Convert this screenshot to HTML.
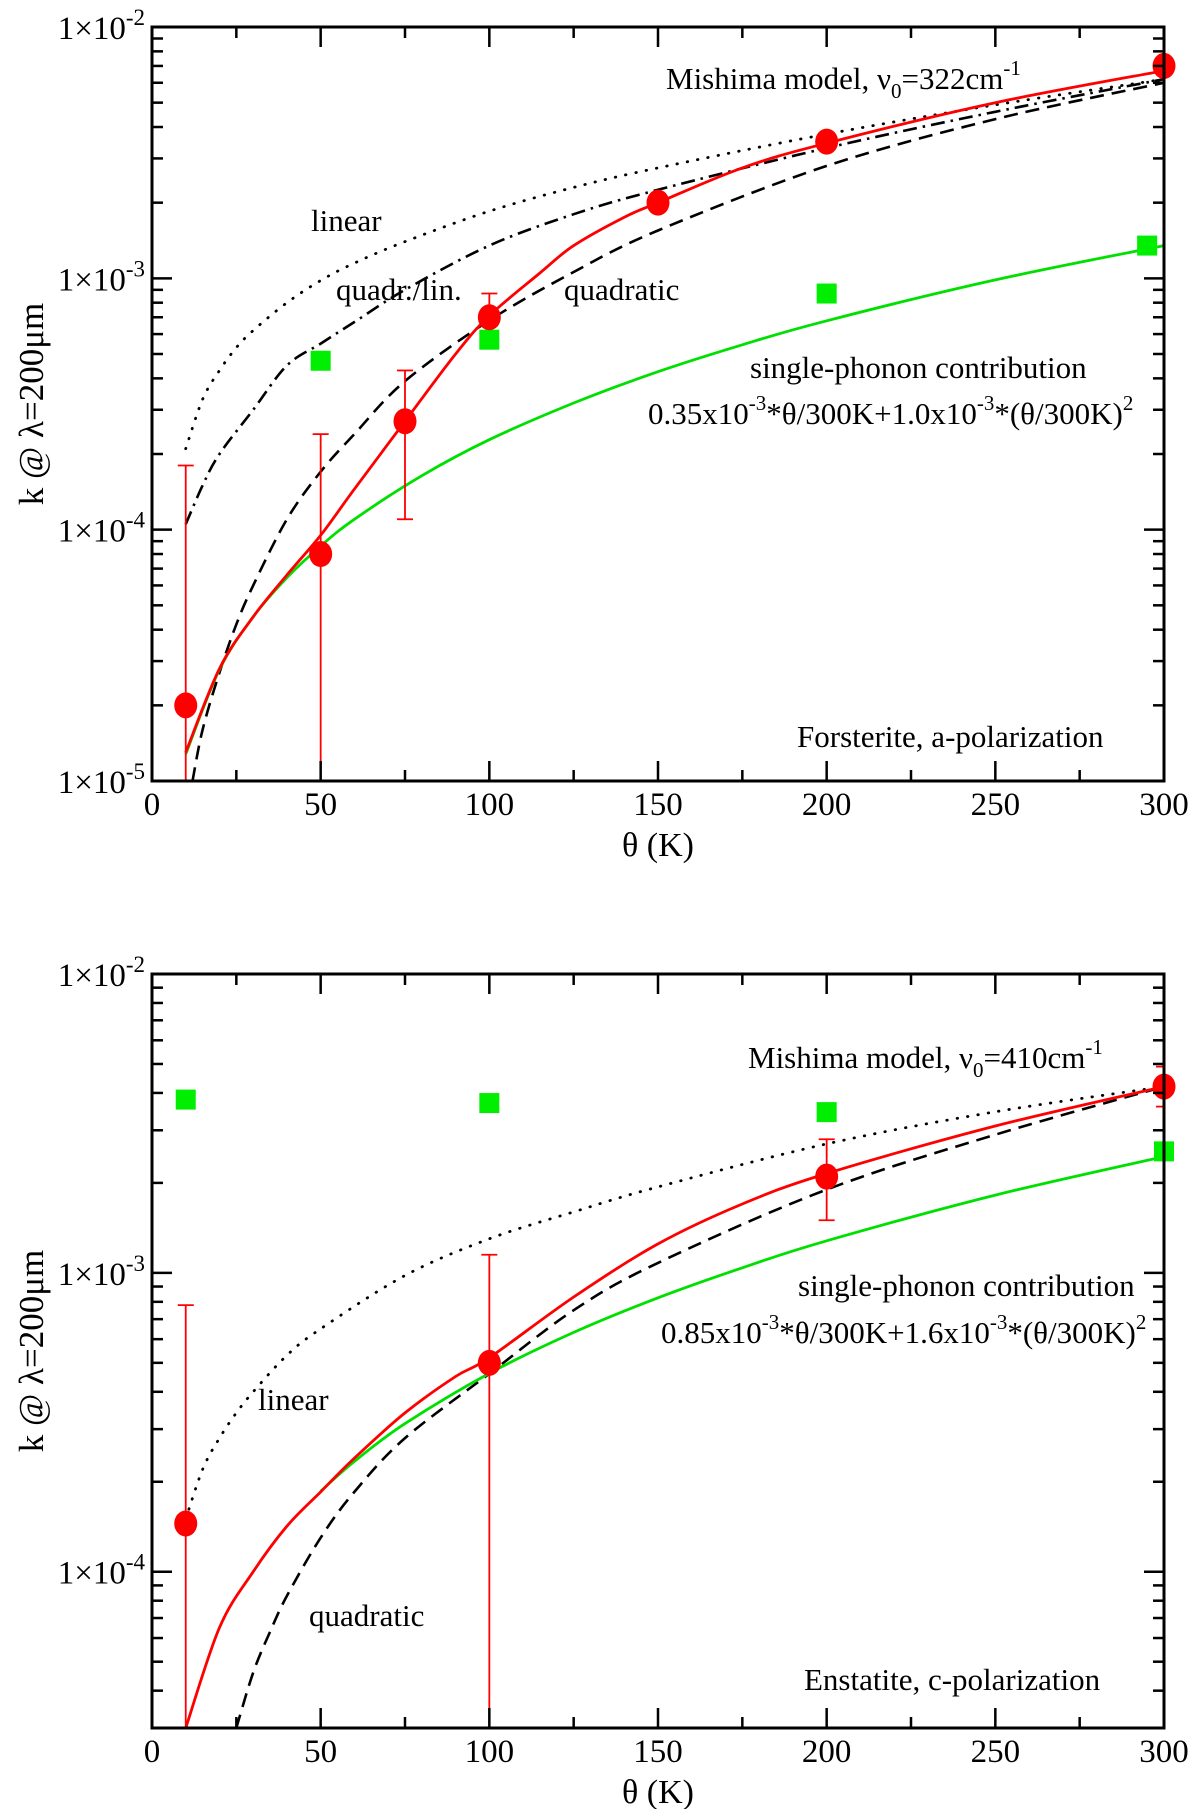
<!DOCTYPE html>
<html><head><meta charset="utf-8"><style>
body{margin:0;background:#fff}
svg{display:block}
text{font-family:"Liberation Serif",serif;fill:#000}
</style></head><body>
<svg id="s" width="1200" height="1809" viewBox="0 0 1200 1809"></svg>
<script>
// ---- Top panel data (Forsterite) ----
const xTicks=[0,50,100,150,200,250,300];
const aPtsX=[10,50,75,100,150,200,300];
const aPtsY=[2e-5,8e-5,2.7e-4,7e-4,2e-3,3.5e-3,7e-3];
const aErrLo=[1e-5,1e-5,1.1e-4,5.7e-4,2e-3,3.5e-3,7e-3];
const aErrHi=[1.8e-4,2.4e-4,4.3e-4,8.7e-4,2e-3,3.5e-3,7e-3];
const aSqX=[50,100,200,295];
const aSqY=[4.7e-4,5.7e-4,8.7e-4,1.35e-3];
const aGreenX=[10,20,30,40,50,60,80,100,125,150,175,200,250,300];
const aGreenY=[1.28e-5,2.78e-5,4.5e-5,6.44e-5,8.61e-5,1.1e-4,1.64e-4,2.28e-4,3.19e-4,4.25e-4,5.44e-4,6.78e-4,9.86e-4,1.35e-3];
const aRedX=[10,20,30,40,50,60,75,90,100,115,125,140,150,175,200,250,300];
const aRedY=[1.3e-5,2.8e-5,4.5e-5,6.6e-5,9.5e-5,1.45e-4,2.7e-4,5e-4,7.1e-4,1.05e-3,1.35e-3,1.75e-3,2e-3,2.75e-3,3.45e-3,5e-3,6.7e-3];
const aLinX=[10,15,20,25,30,40,50,60,75,100,125,150,200,250,300];
const aLinY=[2.1e-4,3.3e-4,4.3e-4,5.3e-4,6.2e-4,8e-4,9.8e-4,1.15e-3,1.4e-3,1.85e-3,2.3e-3,2.75e-3,3.75e-3,4.9e-3,6.2e-3];
const aQLX=[10,15,20,30,40,50,60,75,100,125,150,200,250,300];
const aQLY=[1.05e-4,1.5e-4,2e-4,3e-4,4.5e-4,5.5e-4,6.7e-4,9e-4,1.35e-3,1.8e-3,2.25e-3,3.3e-3,4.6e-3,6.2e-3];
const aQX=[12,15,20,25,30,40,50,60,75,100,125,150,200,250,300];
const aQY=[1e-5,1.6e-5,2.7e-5,4.2e-5,6e-5,1.1e-4,1.7e-4,2.4e-4,3.9e-4,6.8e-4,1.06e-3,1.55e-3,2.8e-3,4.3e-3,6e-3];
// ---- Bottom panel data (Enstatite) ----
const bPtsX=[10,100,200,300];
const bPtsY=[1.45e-4,5e-4,2.1e-3,4.2e-3];
const bErrLo=[3e-5,3e-5,1.5e-3,3.6e-3];
const bErrHi=[7.8e-4,1.15e-3,2.8e-3,4.9e-3];
const bSqX=[10,100,200,300];
const bSqY=[3.8e-3,3.7e-3,3.45e-3,2.55e-3];
const bGreenX=[50,60,75,100,125,150,175,200,250,300];
const bGreenY=[1.86e-4,2.34e-4,3.13e-4,4.61e-4,6.32e-4,8.25e-4,1.04e-3,1.28e-3,1.82e-3,2.45e-3];
const bRedX=[10,20,30,40,50,60,75,90,100,125,150,175,200,250,300];
const bRedY=[3e-5,6.5e-5,1e-4,1.42e-4,1.85e-4,2.4e-4,3.4e-4,4.5e-4,5.2e-4,8.3e-4,1.25e-3,1.7e-3,2.15e-3,3.1e-3,4.2e-3];
const bLinX=[10,15,20,25,30,40,50,75,100,125,150,200,250,300];
const bLinY=[1.5e-4,2.2e-4,2.8e-4,3.4e-4,4e-4,5.3e-4,6.5e-4,9.8e-4,1.3e-3,1.6e-3,1.94e-3,2.7e-3,3.46e-3,4.2e-3];
const bQX=[25,30,35,40,50,60,75,100,125,150,200,250,300];
const bQY=[3e-5,4.6e-5,6.3e-5,8.3e-5,1.3e-4,1.85e-4,2.8e-4,4.6e-4,7.5e-4,1.08e-3,1.9e-3,2.9e-3,4.2e-3];

const NS="http://www.w3.org/2000/svg";
const svg=document.getElementById('s');
function el(tag,attrs,parent){const e=document.createElementNS(NS,tag);for(const k in attrs)e.setAttribute(k,attrs[k]);(parent||svg).appendChild(e);return e;}

function smoothPath(pts){
  let d='M'+pts[0][0].toFixed(1)+','+pts[0][1].toFixed(1);
  for(let i=0;i<pts.length-1;i++){
    const p0=pts[Math.max(0,i-1)],p1=pts[i],p2=pts[i+1],p3=pts[Math.min(pts.length-1,i+2)];
    const c1=[p1[0]+(p2[0]-p0[0])/6,p1[1]+(p2[1]-p0[1])/6];
    const c2=[p2[0]-(p3[0]-p1[0])/6,p2[1]-(p3[1]-p1[1])/6];
    d+='C'+c1[0].toFixed(1)+','+c1[1].toFixed(1)+' '+c2[0].toFixed(1)+','+c2[1].toFixed(1)+' '+p2[0].toFixed(1)+','+p2[1].toFixed(1);
  }
  return d;
}

function panel(P){
  const g=el('g',{});
  
  
  const L=152,R=1164,T=P.top,B=P.bottom;
  const lmin=Math.log10(P.ymin),lmax=Math.log10(P.ymax);
  const X=v=>L+(v-0)/(300-0)*(R-L);
  const Y=v=>B-(Math.log10(v)-lmin)/(lmax-lmin)*(B-T);
  const cid='clip'+P.name;
  const cp=el('clipPath',{id:cid},g);el('rect',{x:L,y:T,width:R-L,height:B-T},cp);
  const plot=el('g',{'clip-path':'url(#'+cid+')'},g);
  function line(xs,ys,color,dash,name,w,cap){
    const d=smoothPath(xs.map((x,i)=>[X(x),Y(ys[i])]));
    const p=el('path',{d:d,fill:'none',stroke:color,'stroke-width':w||2.6,'stroke-dasharray':dash||'none','stroke-linecap':cap||'butt'},plot);
    
    
  }
  line(P.linX,P.linY,'#000','0.5 10','linear-curve',2.8,'round');
  if(P.qlX) line(P.qlX,P.qlY,'#000','14 6 2.5 6','quadr-lin-curve',2.6);
  line(P.qX,P.qY,'#000','14 8','quadratic-curve',2.6);
  line(P.gX,P.gY,'#00e000',null,'single-phonon-curve',2.8);
  line(P.rX,P.rY,'#ff0000',null,'mishima-curve',2.8);
  P.pX.forEach((x,i)=>{
    const e=el('g',{},plot);
    
    
    const lo=Y(Math.max(P.eLo[i],P.ymin)),hi=Y(P.eHi[i]);
    el('line',{x1:X(x),x2:X(x),y1:lo,y2:hi,stroke:'#ff0000','stroke-width':1.8},e);
    el('line',{x1:X(x)-8,x2:X(x)+8,y1:hi,y2:hi,stroke:'#ff0000','stroke-width':1.8},e);
    if(P.eLo[i]>P.ymin) el('line',{x1:X(x)-8,x2:X(x)+8,y1:lo,y2:lo,stroke:'#ff0000','stroke-width':1.8},e);
  });
  P.sX.forEach((x,i)=>{
    const r=el('rect',{x:X(x)-10,y:Y(P.sY[i])-10,width:20,height:20,fill:'#00ee00'},g);
    
    
  });
  P.pX.forEach((x,i)=>{
    const c=el('ellipse',{cx:X(x),cy:Y(P.pY[i]),rx:11.5,ry:13,fill:'#ff0000'},g);
    
    
  });
  const f=el('rect',{x:L,y:T,width:R-L,height:B-T,fill:'none',stroke:'#000','stroke-width':3},g);
  
  
  for(let v=0;v<=300;v+=25){
    const len=v%50===0?20:11;
    el('line',{x1:X(v),x2:X(v),y1:B,y2:B-len,stroke:'#000','stroke-width':2.5},g);
    el('line',{x1:X(v),x2:X(v),y1:T,y2:T+len,stroke:'#000','stroke-width':2.5},g);
  }
  xTicks.forEach(v=>{
    const t=el('text',{x:X(v),y:B+34,'font-size':33,'text-anchor':'middle'},g);
    t.textContent=v;
    
    
  });
  for(let d=Math.floor(lmin);d<lmax;d++){
    for(let m=1;m<10;m++){
      const v=m*Math.pow(10,d);
      if(v<P.ymin*0.999||v>P.ymax*1.001) continue;
      const len=m===1?20:11,y=Y(v);
      el('line',{x1:L,x2:L+len,y1:y,y2:y,stroke:'#000','stroke-width':2.5},g);
      el('line',{x1:R,x2:R-len,y1:y,y2:y,stroke:'#000','stroke-width':2.5},g);
    }
  }
  P.yLabels.forEach(d=>{
    const y=Y(Math.pow(10,d));
    const t=el('text',{x:145,y:y+12,'font-size':33,'text-anchor':'end'},g);
    t.innerHTML='1×10<tspan dy="-14" font-size="23">'+d+'</tspan>';
    
    
  });
  const xt=el('text',{x:(L+R)/2,y:B+75,'font-size':34,'text-anchor':'middle'},g);
  xt.textContent='θ (K)';
  
  
  const cy=(T+B)/2;
  const yt=el('text',{x:43,y:cy,'font-size':35,'text-anchor':'middle',transform:'rotate(-90 43 '+cy+')'},g);
  yt.textContent='k @ λ=200μm';
  
  
  P.notes.forEach(n=>{
    const t=el('text',{x:n[0],y:n[1],'font-size':31},g);
    t.innerHTML=n[2];
    
    
  });
}

panel({name:'forsterite-panel',top:27,bottom:781,ymin:1e-5,ymax:1e-2,yLabels:[-5,-4,-3,-2],
  pX:aPtsX,pY:aPtsY,eLo:aErrLo,eHi:aErrHi,sX:aSqX,sY:aSqY,gX:aGreenX,gY:aGreenY,rX:aRedX,rY:aRedY,
  linX:aLinX,linY:aLinY,qlX:aQLX,qlY:aQLY,qX:aQX,qY:aQY,
  notes:[[666,89,'Mishima model, ν<tspan dy="9" font-size="21">0</tspan><tspan dy="-9">=322cm</tspan><tspan dy="-14" font-size="21">-1</tspan>','mishima-label'],
   [311,231,'linear','linear-label'],[336,300,'quadr./lin.','quadr-lin-label'],[564,300,'quadratic','quadratic-label'],
   [750,378,'single-phonon contribution','single-phonon-label'],
   [648,424,'0.35x10<tspan dy="-14" font-size="21">-3</tspan><tspan dy="14">*θ/300K+1.0x10</tspan><tspan dy="-14" font-size="21">-3</tspan><tspan dy="14">*(θ/300K)</tspan><tspan dy="-14" font-size="21">2</tspan>','formula-label'],
   [797,747,'Forsterite, a-polarization','panel-title']]});

panel({name:'enstatite-panel',top:974,bottom:1728,ymin:3e-5,ymax:1e-2,yLabels:[-4,-3,-2],
  pX:bPtsX,pY:bPtsY,eLo:bErrLo,eHi:bErrHi,sX:bSqX,sY:bSqY,gX:bGreenX,gY:bGreenY,rX:bRedX,rY:bRedY,
  linX:bLinX,linY:bLinY,qX:bQX,qY:bQY,
  notes:[[748,1068,'Mishima model, ν<tspan dy="9" font-size="21">0</tspan><tspan dy="-9">=410cm</tspan><tspan dy="-14" font-size="21">-1</tspan>','mishima-label'],
   [798,1296,'single-phonon contribution','single-phonon-label'],
   [661,1343,'0.85x10<tspan dy="-14" font-size="21">-3</tspan><tspan dy="14">*θ/300K+1.6x10</tspan><tspan dy="-14" font-size="21">-3</tspan><tspan dy="14">*(θ/300K)</tspan><tspan dy="-14" font-size="21">2</tspan>','formula-label'],
   [258,1410,'linear','linear-label'],[309,1626,'quadratic','quadratic-label'],
   [804,1690,'Enstatite, c-polarization','panel-title']]});
</script>
</body></html>
